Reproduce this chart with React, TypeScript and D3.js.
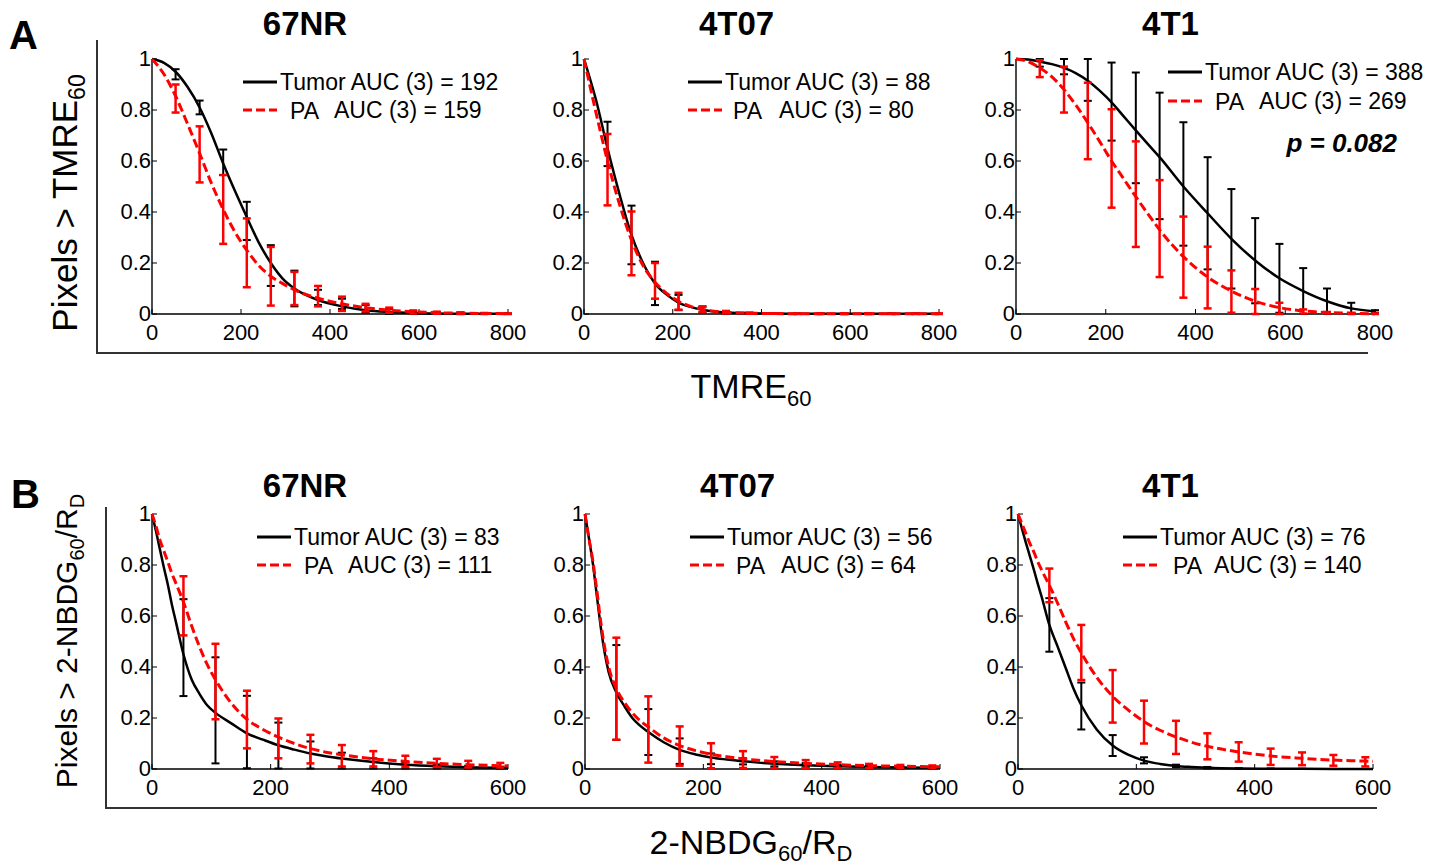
import React from "react";
import * as d3 from "d3";

const FONT = "'Liberation Sans', Arial, Helvetica, sans-serif";

// sample positions of the fitted curves and the error-bar bins
const xsA = [0, 27, 53, 80, 107, 133, 160, 187, 213, 240, 267, 293, 320, 373, 427, 480, 533, 587, 640, 693, 747, 800];
const binsA = [53, 107, 160, 213, 267, 320, 373, 427, 480, 533, 587, 640, 693, 747, 800];
const xsB = [0, 7, 13, 20, 27, 33, 40, 53, 67, 80, 93, 107, 133, 160, 187, 213, 240, 267, 293, 320, 373, 427, 480, 533, 587, 600];
const binsB = [53, 107, 160, 213, 267, 320, 373, 427, 480, 533, 587];

const cellLines = ["67NR", "4T07", "4T1"];
const aucTumorA = [192, 88, 388];
const aucPaA = [159, 80, 269];
const aucTumorB = [83, 56, 76];
const aucPaB = [111, 64, 140];
const yTicks = [0, 0.2, 0.4, 0.6, 0.8, 1];
const xTicksA = [0, 200, 400, 600, 800];
const xTicksB = [0, 200, 400, 600];

// A: TMRE60 curves
const tumorCurveA1 = [1, 0.985, 0.95, 0.89, 0.81, 0.71, 0.59, 0.48, 0.38, 0.28, 0.2, 0.14, 0.1, 0.055, 0.03, 0.015, 0.008, 0.004, 0.002, 0.001, 0.001, 0.001];
const paCurveA1 = [1, 0.94, 0.855, 0.745, 0.63, 0.515, 0.41, 0.32, 0.25, 0.19, 0.148, 0.12, 0.095, 0.062, 0.04, 0.025, 0.015, 0.009, 0.005, 0.003, 0.002, 0.001];
const tumorCurveA2 = [1, 0.84, 0.65, 0.47, 0.31, 0.2, 0.12, 0.075, 0.045, 0.028, 0.017, 0.01, 0.006, 0.003, 0.0015, 0.001, 0.001, 0.0005, 0.0005, 0.0005, 0.0005, 0.0005];
const paCurveA2 = [1, 0.79, 0.6, 0.43, 0.29, 0.19, 0.125, 0.08, 0.05, 0.03, 0.018, 0.011, 0.007, 0.003, 0.002, 0.001, 0.001, 0.001, 0.001, 0.001, 0.001, 0.001];
const tumorCurveA3 = [1, 0.998, 0.99, 0.98, 0.965, 0.945, 0.915, 0.875, 0.83, 0.775, 0.72, 0.668, 0.615, 0.5, 0.395, 0.295, 0.21, 0.14, 0.09, 0.05, 0.022, 0.01];
const paCurveA3 = [1, 0.99, 0.965, 0.93, 0.88, 0.82, 0.75, 0.675, 0.6, 0.53, 0.46, 0.395, 0.33, 0.225, 0.145, 0.09, 0.05, 0.025, 0.012, 0.006, 0.003, 0.001];

// A: error bars (mean, half-width)
const tumorMeanA1 = [0.94, 0.81, 0.595, 0.365, 0.19, 0.1, 0.065, 0.04, 0.02, 0.01, 0.006, 0.004, 0.003, 0.002, 0.001];
const tumorErrA1 = [0.02, 0.027, 0.05, 0.075, 0.08, 0.07, 0.03, 0.02, 0.015, 0.01, 0.005, 0.004, 0.003, 0.002, 0.001];
const paMeanA1 = [0.845, 0.626, 0.41, 0.24, 0.148, 0.1, 0.07, 0.04, 0.025, 0.015, 0.008, 0.005, 0.003, 0.002, 0.001];
const paErrA1 = [0.055, 0.11, 0.135, 0.135, 0.115, 0.065, 0.04, 0.028, 0.015, 0.01, 0.006, 0.004, 0.003, 0.002, 0.001];
const tumorMeanA2 = [0.667, 0.31, 0.12, 0.045, 0.018, 0.006, 0.003, 0.002, 0.001, 0.001, 0.001, 0.001, 0.001, 0.001, 0.001];
const tumorErrA2 = [0.087, 0.115, 0.085, 0.03, 0.012, 0.005, 0.002, 0.001, 0.001, 0.001, 0.001, 0.001, 0.001, 0.001, 0.001];
const paMeanA2 = [0.566, 0.277, 0.13, 0.05, 0.018, 0.007, 0.003, 0.002, 0.001, 0.001, 0.001, 0.001, 0.001, 0.001, 0.001];
const paErrA2 = [0.14, 0.125, 0.07, 0.033, 0.01, 0.005, 0.002, 0.001, 0.001, 0.001, 0.001, 0.001, 0.001, 0.001, 0.001];
const tumorMeanA3 = [0.985, 0.97, 0.918, 0.833, 0.73, 0.62, 0.51, 0.395, 0.295, 0.209, 0.14, 0.09, 0.05, 0.022, 0.01];
const tumorErrA3 = [0.015, 0.03, 0.082, 0.153, 0.217, 0.248, 0.242, 0.22, 0.195, 0.167, 0.135, 0.09, 0.05, 0.022, 0.005];
const paMeanA3 = [0.962, 0.88, 0.757, 0.61, 0.47, 0.335, 0.223, 0.143, 0.088, 0.049, 0.022, 0.01, 0.005, 0.002, 0.001];
const paErrA3 = [0.033, 0.09, 0.15, 0.193, 0.207, 0.19, 0.159, 0.121, 0.083, 0.049, 0.022, 0.008, 0.003, 0.002, 0.001];

// B: 2-NBDG60/RD curves
const tumorCurveB1 = [1, 0.93, 0.865, 0.79, 0.72, 0.65, 0.58, 0.45, 0.35, 0.295, 0.25, 0.22, 0.18, 0.14, 0.115, 0.093, 0.076, 0.061, 0.05, 0.041, 0.027, 0.017, 0.011, 0.007, 0.005, 0.004];
const paCurveB1 = [1, 0.95, 0.9, 0.855, 0.81, 0.77, 0.73, 0.655, 0.56, 0.48, 0.41, 0.35, 0.26, 0.195, 0.155, 0.125, 0.1, 0.08, 0.066, 0.056, 0.04, 0.03, 0.022, 0.017, 0.013, 0.012];
const tumorCurveB2 = [1, 0.9, 0.81, 0.68, 0.55, 0.46, 0.38, 0.3, 0.245, 0.2, 0.17, 0.145, 0.105, 0.075, 0.057, 0.045, 0.037, 0.03, 0.025, 0.021, 0.015, 0.011, 0.008, 0.006, 0.005, 0.005];
const paCurveB2 = [1, 0.9, 0.82, 0.7, 0.57, 0.48, 0.4, 0.315, 0.26, 0.22, 0.19, 0.165, 0.122, 0.092, 0.072, 0.058, 0.048, 0.04, 0.034, 0.029, 0.022, 0.017, 0.013, 0.011, 0.009, 0.009];
const tumorCurveB3 = [1, 0.94, 0.89, 0.835, 0.78, 0.73, 0.675, 0.565, 0.48, 0.4, 0.32, 0.25, 0.155, 0.092, 0.055, 0.033, 0.02, 0.012, 0.008, 0.005, 0.002, 0.001, 0.0005, 0.0003, 0.0002, 0.0002];
const paCurveB3 = [1, 0.96, 0.925, 0.885, 0.85, 0.815, 0.78, 0.72, 0.65, 0.58, 0.515, 0.455, 0.36, 0.285, 0.23, 0.186, 0.152, 0.126, 0.105, 0.089, 0.067, 0.051, 0.042, 0.035, 0.031, 0.03];

// B: error bars
const tumorMeanB1 = [0.476, 0.23, 0.145, 0.092, 0.055, 0.033, 0.022, 0.014, 0.01, 0.007, 0.005];
const tumorErrB1 = [0.19, 0.208, 0.142, 0.09, 0.053, 0.031, 0.02, 0.012, 0.008, 0.006, 0.004];
const paMeanB1 = [0.64, 0.343, 0.194, 0.12, 0.078, 0.052, 0.04, 0.03, 0.024, 0.019, 0.015];
const paErrB1 = [0.116, 0.148, 0.113, 0.078, 0.056, 0.042, 0.03, 0.022, 0.016, 0.013, 0.009];
const tumorMeanB2 = [0.3, 0.145, 0.07, 0.04, 0.03, 0.02, 0.015, 0.011, 0.008, 0.006, 0.005];
const tumorErrB2 = [0.186, 0.09, 0.05, 0.021, 0.012, 0.01, 0.008, 0.006, 0.005, 0.004, 0.003];
const paMeanB2 = [0.315, 0.155, 0.09, 0.052, 0.037, 0.025, 0.019, 0.015, 0.012, 0.01, 0.009];
const paErrB2 = [0.2, 0.13, 0.077, 0.049, 0.033, 0.022, 0.016, 0.011, 0.008, 0.006, 0.005];
const tumorMeanB3 = [0.565, 0.247, 0.092, 0.034, 0.012, 0.005, 0.002, 0.001, 0.0005, 0.0003, 0.0002];
const tumorErrB3 = [0.105, 0.092, 0.041, 0.012, 0.005, 0.003, 0.001, 0.001, 0.0005, 0.0003, 0.0002];
const paMeanB3 = [0.72, 0.457, 0.285, 0.184, 0.124, 0.089, 0.067, 0.048, 0.04, 0.034, 0.028];
const paErrB3 = [0.066, 0.108, 0.103, 0.084, 0.065, 0.051, 0.038, 0.032, 0.025, 0.021, 0.018];

const RED = "#ff0000";

type PanelProps = {
  x0: number; x1: number; top: number; bottom: number;
  xMax: number; xTicks: number[];
  xs: number[]; bins: number[];
  tumorCurve: number[]; paCurve: number[];
  tumorMean: number[]; tumorErr: number[];
  paMean: number[]; paErr: number[];
  title: string; titleY: number;
  aucT: number; aucP: number;
  legX: number; legY: number; legGap: number; paDx?: number;
};

function ErrorBars({ bins, mean, err, x, y, color, width }: any) {
  return (
    <g stroke={color} strokeWidth={width} fill="none">
      {bins.map((b: number, i: number) => {
        const lo = y(Math.max(0, mean[i] - err[i]));
        const hi = y(Math.min(1, mean[i] + err[i]));
        const cx = x(b);
        return (
          <g key={i}>
            <line x1={cx} x2={cx} y1={lo} y2={hi} />
            <line x1={cx - 4} x2={cx + 4} y1={lo} y2={lo} />
            <line x1={cx - 4} x2={cx + 4} y1={hi} y2={hi} />
          </g>
        );
      })}
    </g>
  );
}

function Panel(p: PanelProps) {
  const x = d3.scaleLinear().domain([0, p.xMax]).range([p.x0, p.x1]);
  const y = d3.scaleLinear().domain([0, 1]).range([p.bottom, p.top]);
  const line = d3
    .line<number>()
    .x((_, i) => x(p.xs[i]))
    .y((d) => y(d))
    .curve(d3.curveMonotoneX);
  const legEnd = p.legX + 34;
  return (
    <g fontFamily={FONT}>
      <text x={(p.x0 + p.x1) / 2 - 25} y={p.titleY} fontSize={33} fontWeight="bold" textAnchor="middle">
        {p.title}
      </text>
      {/* axes */}
      <path d={`M${p.x0},${p.top}V${p.bottom}H${p.x1}`} stroke="#000" strokeWidth={1.4} fill="none" />
      {yTicks.map((t) => (
        <g key={"y" + t}>
          <line x1={p.x0} x2={p.x0 + 5} y1={y(t)} y2={y(t)} stroke="#000" strokeWidth={1} />
          <text x={p.x0 - 1} y={y(t) + 7} fontSize={22} textAnchor="end">
            {d3.format("~g")(t)}
          </text>
        </g>
      ))}
      {p.xTicks.map((t) => (
        <g key={"x" + t}>
          <line x1={x(t)} x2={x(t)} y1={p.bottom} y2={p.bottom - 5} stroke="#000" strokeWidth={1} />
          <text x={x(t)} y={p.bottom + 26} fontSize={22} textAnchor="middle">
            {t}
          </text>
        </g>
      ))}
      {/* tumor series */}
      <path d={line(p.tumorCurve) || ""} stroke="#000" strokeWidth={2.5} fill="none" />
      <ErrorBars bins={p.bins} mean={p.tumorMean} err={p.tumorErr} x={x} y={y} color="#000" width={2} />
      {/* PA series */}
      <path d={line(p.paCurve) || ""} stroke={RED} strokeWidth={3} strokeDasharray="9 4" fill="none" />
      <ErrorBars bins={p.bins} mean={p.paMean} err={p.paErr} x={x} y={y} color={RED} width={2.5} />
      {/* legend */}
      <line x1={p.legX} x2={legEnd} y1={p.legY} y2={p.legY} stroke="#000" strokeWidth={3} />
      <text x={legEnd + 3} y={p.legY + 8} fontSize={23}>{`Tumor AUC (3) = ${p.aucT}`}</text>
      <line x1={p.legX} x2={legEnd} y1={p.legY + p.legGap} y2={p.legY + p.legGap} stroke={RED} strokeWidth={3} strokeDasharray="9 4" />
      <text x={legEnd + (p.paDx ?? 13)} y={p.legY + p.legGap + 9} fontSize={23}>PA</text>
      <text x={legEnd + 57} y={p.legY + p.legGap + 8} fontSize={23}>{`AUC (3) = ${p.aucP}`}</text>
    </g>
  );
}

const rowA = { top: 59, bottom: 314, xMax: 800, xTicks: xTicksA, xs: xsA, bins: binsA, titleY: 35 };
const rowB = { top: 514, bottom: 769, xMax: 600, xTicks: xTicksB, xs: xsB, bins: binsB, titleY: 497 };

export default function App() {
  return (
    <svg width={1440} height={867} style={{ position: "absolute", left: 0, top: 0, background: "#fff" }}>
      <rect width={1440} height={867} fill="#fff" />
      <g fontFamily={FONT}>
        <text x={9} y={49} fontSize={40} fontWeight="bold">A</text>
        <text x={11} y={508} fontSize={40} fontWeight="bold">B</text>
        <path d="M97,40V353H1368" stroke="#333" strokeWidth={2} fill="none" />
        <path d="M106,507V808H1377" stroke="#333" strokeWidth={2} fill="none" />
        <text x={751} y={398} fontSize={34} textAnchor="middle">
          TMRE<tspan fontSize={22} dy={8}>60</tspan>
        </text>
        <text x={751} y={854} fontSize={34} textAnchor="middle">
          2-NBDG<tspan fontSize={22} dy={7}>60</tspan>
          <tspan dy={-7}>/R</tspan>
          <tspan fontSize={22} dy={7}>D</tspan>
        </text>
        <text transform="translate(77,203) rotate(-90)" fontSize={35} textAnchor="middle">
          Pixels &gt; TMRE<tspan fontSize={23} dy={8}>60</tspan>
        </text>
        <text transform="translate(77,641) rotate(-90)" fontSize={30} textAnchor="middle">
          Pixels &gt; 2-NBDG<tspan fontSize={20} dy={7}>60</tspan>
          <tspan dy={-7}>/R</tspan>
          <tspan fontSize={20} dy={7}>D</tspan>
        </text>
        <text x={1397} y={152} fontSize={26} fontWeight="bold" fontStyle="italic" textAnchor="end">
          p = 0.082
        </text>
      </g>

      <Panel {...rowA} x0={152} x1={508} title={cellLines[0]} aucT={aucTumorA[0]} aucP={aucPaA[0]}
        tumorCurve={tumorCurveA1} paCurve={paCurveA1} tumorMean={tumorMeanA1} tumorErr={tumorErrA1}
        paMean={paMeanA1} paErr={paErrA1} legX={243} legY={82} legGap={28} />
      <Panel {...rowA} x0={584} x1={939} title={cellLines[1]} aucT={aucTumorA[1]} aucP={aucPaA[1]}
        tumorCurve={tumorCurveA2} paCurve={paCurveA2} tumorMean={tumorMeanA2} tumorErr={tumorErrA2}
        paMean={paMeanA2} paErr={paErrA2} legX={688} legY={82} legGap={28} paDx={11} />
      <Panel {...rowA} x0={1016} x1={1375} title={cellLines[2]} aucT={aucTumorA[2]} aucP={aucPaA[2]}
        tumorCurve={tumorCurveA3} paCurve={paCurveA3} tumorMean={tumorMeanA3} tumorErr={tumorErrA3}
        paMean={paMeanA3} paErr={paErrA3} legX={1168} legY={72} legGap={29} />

      <Panel {...rowB} x0={152} x1={508} title={cellLines[0]} aucT={aucTumorB[0]} aucP={aucPaB[0]}
        tumorCurve={tumorCurveB1} paCurve={paCurveB1} tumorMean={tumorMeanB1} tumorErr={tumorErrB1}
        paMean={paMeanB1} paErr={paErrB1} legX={257} legY={537} legGap={28} />
      <Panel {...rowB} x0={585} x1={940} title={cellLines[1]} aucT={aucTumorB[1]} aucP={aucPaB[1]}
        tumorCurve={tumorCurveB2} paCurve={paCurveB2} tumorMean={tumorMeanB2} tumorErr={tumorErrB2}
        paMean={paMeanB2} paErr={paErrB2} legX={690} legY={537} legGap={28} paDx={12} />
      <Panel {...rowB} x0={1018} x1={1373} title={cellLines[2]} aucT={aucTumorB[2]} aucP={aucPaB[2]}
        tumorCurve={tumorCurveB3} paCurve={paCurveB3} tumorMean={tumorMeanB3} tumorErr={tumorErrB3}
        paMean={paMeanB3} paErr={paErrB3} legX={1123} legY={537} legGap={28} paDx={16} />
    </svg>
  );
}
